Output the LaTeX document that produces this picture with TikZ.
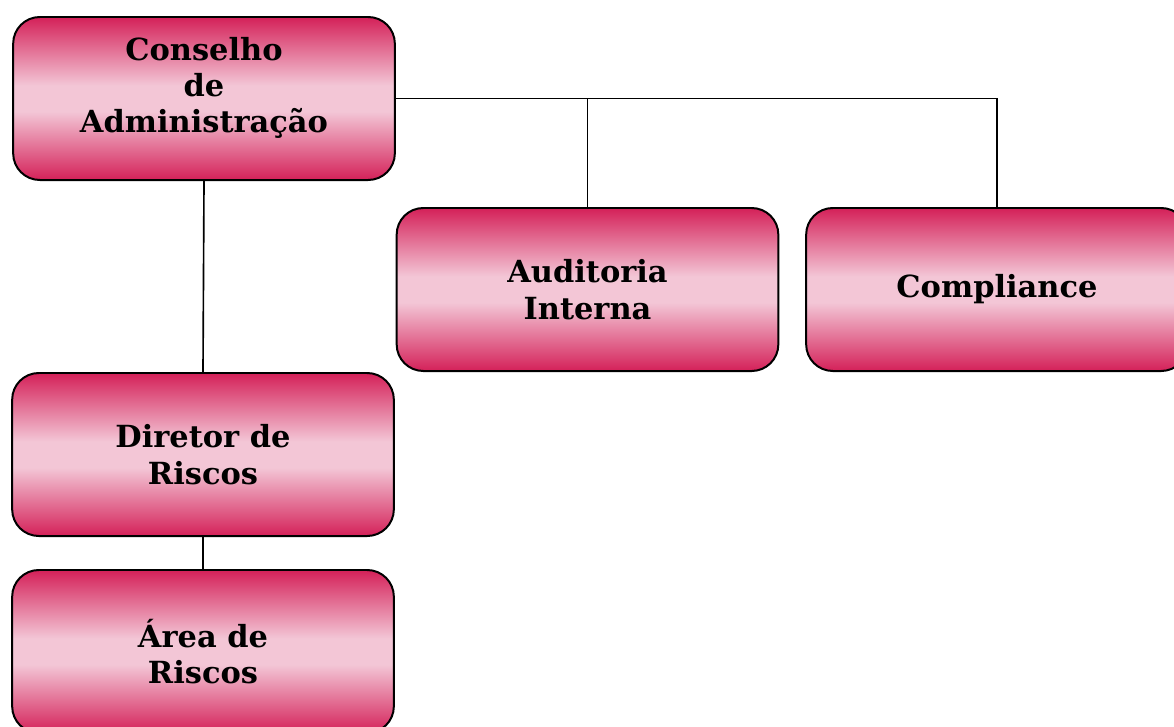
\documentclass[tikz,border=0pt]{standalone}
\usepackage{fontspec}
\setmainfont{DejaVu Serif}
\definecolor{crimson}{RGB}{212,32,88}
\definecolor{blush}{RGB}{243,198,214}
\pgfdeclareverticalshading{boxshade}{100bp}{color(0bp)=(crimson); color(25bp)=(crimson); color(28bp)=(crimson!85!blush); color(46bp)=(blush); color(54bp)=(blush); color(72bp)=(crimson!85!blush); color(75bp)=(crimson); color(100bp)=(crimson)}
\begin{document}
\begin{tikzpicture}[x=0.03cm,y=-0.03cm]

% Style for nodes
\tikzstyle{unit}=[draw,line width=1.7pt,rounded corners=0.8cm,shading=boxshade,
    minimum width=11.45cm,minimum height=4.89cm,align=center,
    font=\fontsize{26}{31}\selectfont\bfseries]
\tikzstyle{link}=[line width=1.4pt]
\useasboundingbox (0,0) rectangle (1174,727);
% The boxes
\node(cons)[unit] at (204,98.5){Conselho\\de\\Administração\\[-8pt]};
\node(audit)[unit] at (587.5,289.5){Auditoria\\Interna};
\node(comp)[unit] at (997,289.5){Compliance};
\node(dir)[unit] at (203,454.5){Diretor de\\Riscos};
\node(area)[unit] at (203,651.5){Área de\\Riscos};
% The lines
\draw[link] (cons.east) -| (comp.north);
\draw[link] (audit.north) -- (audit.north |- cons.east);
\draw[link] (cons.south) -- (dir.north);
\draw[link] (dir.south) -- (area.north);
\end{tikzpicture}
\end{document}
